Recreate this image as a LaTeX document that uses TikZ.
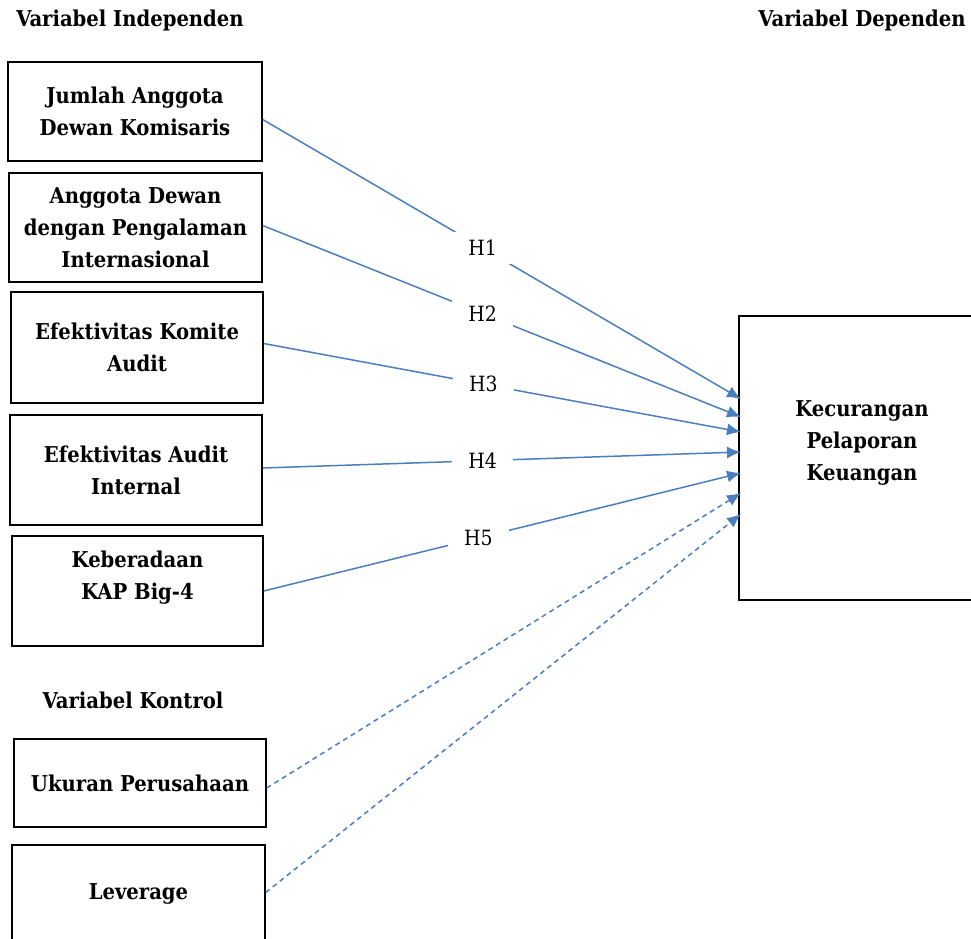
\documentclass[tikz,border=0pt]{standalone}
\usepackage{fontspec}
\setmainfont{DejaVu Serif Condensed}
\usetikzlibrary{arrows.meta}
\definecolor{lcol}{RGB}{74,126,190}
\tikzset{varbox/.style={draw,line width=1.4pt,minimum width=252,align=center,font=\bfseries\fontsize{21.8}{32}\selectfont}}
\tikzset{head/.style={font=\bfseries\fontsize{21.8}{27}\selectfont}}
\tikzset{link/.style={lcol,line width=1.5pt,-{Latex[length=14pt,width=12pt]}}}
\tikzset{ctrl/.style={link,dash pattern=on 5pt off 4pt}}
\tikzset{hyp/.style={fill=white,text=black,inner xsep=16pt,inner ysep=8pt,font=\fontsize{21}{27}\selectfont,pos=.46}}

\begin{document}
\begin{tikzpicture}[x=1pt,y=-1pt]
\useasboundingbox (0,0) rectangle (971,938);
\node [head] (indep) at (130,20) {Variabel Independen};
\node [head] (depen) at (862,20) {Variabel Dependen};
\node [head] (kontrol) at (133,700) {Variabel Kontrol};

\node [varbox,minimum width=254,minimum height=99] (jumlah) at (135,111.5) {Jumlah Anggota\\Dewan Komisaris};
\node [varbox,minimum width=253,minimum height=109] (inter) at (135.5,227.5) {Anggota Dewan\\dengan Pengalaman\\Internasional};
\node [varbox,minimum height=111] (komite) at (137,347.5) {Efektivitas Komite\\Audit};
\node [varbox,minimum height=110] (internal) at (136,470) {Efektivitas Audit\\Internal};
\node [varbox,minimum width=251,minimum height=110] (kap) at (137.5,591) {Keberadaan\\KAP Big-4\\ \mbox{}};
\node [varbox,minimum height=88] (ukuran) at (140,783) {Ukuran Perusahaan};
\node [varbox,minimum width=253,minimum height=97] (lev) at (138.5,893.5) {Leverage};

\node [draw,line width=1.4pt,minimum width=261,minimum height=284] (dep) at (869.5,458) {};
\node [varbox,draw=none] (deptext) at (862,443) {Kecurangan\\Pelaporan\\Keuangan};

\coordinate (t1) at (741,399);
\coordinate (t2) at (741,417);
\coordinate (t3) at (741,432);
\coordinate (t4) at (741,452);
\coordinate (t5) at (741,473);
\coordinate (t6) at (741,493);
\coordinate (t7) at (741,514);

\draw [link] ([yshift=-8pt]jumlah.east) -- node[hyp] (h1) {H1} (t1);
\draw [link] ([yshift=2pt]inter.east) -- node[hyp] (h2) {H2} (t2);
\draw [link] ([yshift=4pt]komite.east) -- node[hyp] (h3) {H3} (t3);
\draw [link] ([yshift=2pt]internal.east) -- node[hyp] (h4) {H4} (t4);
\draw [link] (kap.east) -- node[hyp,pos=.45] (h5) {H5} (t5);
\draw [ctrl] ([yshift=-5pt]ukuran.east) -- (t6);
\draw [ctrl] ([yshift=1pt]lev.east) -- (t7);
\end{tikzpicture}
\end{document}
